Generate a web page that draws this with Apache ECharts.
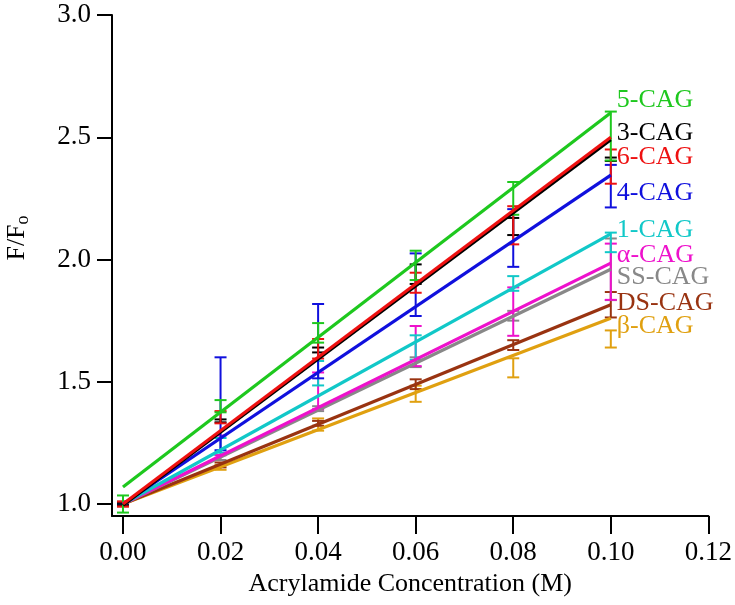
<!DOCTYPE html>
<html>
<head>
<meta charset="utf-8">
<script src="https://cdn.jsdelivr.net/npm/echarts@6/dist/echarts.min.js"></script>
<style>
html,body{margin:0;padding:0;background:#fff;}
#chart{width:735px;height:605px;}
</style>
</head>
<body>
<div id="chart"></div>
<script>
// ---- data ----
const conc = [0, 0.02, 0.04, 0.06, 0.08, 0.10];
const fitX = [0, 0.10];
const xTicks = [0, 0.02, 0.04, 0.06, 0.08, 0.10, 0.12];
const yTicks = [1.0, 1.5, 2.0, 2.5, 3.0];

const names = ['β-CAG', 'DS-CAG', 'SS-CAG', 'α-CAG', '1-CAG', '4-CAG', '3-CAG', '6-CAG', '5-CAG'];

const mean5 = [1.0, 1.40, 1.70, 1.976, 2.25, 2.505];
const err5  = [0.035, 0.025, 0.04, 0.06, 0.067, 0.10];
const fit5  = [1.07, 2.60];

const mean3 = [1.0, 1.34, 1.63, 1.94, 2.135, 2.41];
const err3  = [0.005, 0.006, 0.01, 0.04, 0.035, 0.007];
const fit3  = [0.995, 2.49];

const mean6 = [1.0, 1.355, 1.635, 1.905, 2.14, 2.38];
const err6  = [0.01, 0.025, 0.04, 0.041, 0.078, 0.07];
const fit6  = [1.0, 2.50];

const mean4 = [1.0, 1.41, 1.666, 1.897, 2.088, 2.30];
const err4  = [0.005, 0.19, 0.152, 0.128, 0.118, 0.087];
const fit4  = [1.0, 2.345];

const mean1 = [1.0, 1.24, 1.535, 1.64, 1.902, 2.07];
const err1  = [0.005, 0.03, 0.05, 0.05, 0.03, 0.04];
const fit1  = [1.0, 2.105];

const meanA = [1.0, 1.24, 1.463, 1.646, 1.787, 1.95];
const errA  = [0.005, 0.04, 0.075, 0.082, 0.099, 0.115];
const fitA  = [1.0, 1.985];

const meanSS = [1.0, 1.19, 1.39, 1.58, 1.77, 1.96];
const errSS  = [0.005, 0.01, 0.01, 0.02, 0.02, 0.126];
const fitSS  = [1.0, 1.96];

const meanDS = [1.0, 1.16, 1.33, 1.49, 1.65, 1.815];
const errDS  = [0.01, 0.01, 0.01, 0.02, 0.02, 0.052];
const fitDS  = [1.0, 1.815];

const meanB = [1.0, 1.15, 1.325, 1.451, 1.557, 1.675];
const errB  = [0.005, 0.01, 0.025, 0.033, 0.039, 0.035];
const fitB  = [1.0, 1.76];

const means = [meanB, meanDS, meanSS, meanA, mean1, mean4, mean3, mean6, mean5];
const errs  = [errB, errDS, errSS, errA, err1, err4, err3, err6, err5];
const fits  = [fitB, fitDS, fitSS, fitA, fit1, fit4, fit3, fit6, fit5];

// ---- styles ----
const colors = ['#e0a010', '#993311', '#888888', '#ee11cc', '#11c8c8', '#1010dd', '#000000', '#ee1111', '#1ec81e'];
const labelOffsetY = [8, -2, 8, -8, -4, 18, -7, 20, -13];
const FONT = "'Liberation Serif', 'Times New Roman', serif";

const chart = echarts.init(document.getElementById('chart'), null, {renderer: 'canvas'});

function makeErrRender(color) {
  return function (params, api) {
    const x = api.value(0), lo = api.value(1), hi = api.value(2);
    const pLo = api.coord([x, lo]);
    const pHi = api.coord([x, hi]);
    const h = 6;
    const st = {stroke: color, lineWidth: 2};
    return {
      type: 'group',
      children: [
        {type: 'line', shape: {x1: pLo[0], y1: pLo[1], x2: pHi[0], y2: pHi[1]}, style: st},
        {type: 'line', shape: {x1: pLo[0] - h, y1: pLo[1], x2: pLo[0] + h, y2: pLo[1]}, style: st},
        {type: 'line', shape: {x1: pHi[0] - h, y1: pHi[1], x2: pHi[0] + h, y2: pHi[1]}, style: st}
      ]
    };
  };
}

const series = [];
names.forEach((n, k) => {
  series.push({
    type: 'custom',
    name: n + ' err',
    renderItem: makeErrRender(colors[k]),
    data: conc.map((x, i) => [x, means[k][i] - errs[k][i], means[k][i] + errs[k][i]]),
    encode: {x: 0, y: [1, 2]},
    z: 2,
    silent: true,
    clip: false
  });
});
names.forEach((n, k) => {
  series.push({
    type: 'line',
    name: n,
    data: fitX.map((x, i) => [x, fits[k][i]]),
    symbol: 'none',
    lineStyle: {color: colors[k], width: 3.2},
    itemStyle: {color: colors[k]},
    z: 3 + k,
    silent: true,
    animation: false,
    endLabel: {
      show: true,
      formatter: p => p.seriesName,
      color: colors[k],
      fontFamily: FONT,
      fontSize: 26,
      distance: 5,
      offset: [1, labelOffsetY[k]]
    }
  });
});

const option = {
  animation: false,
  backgroundColor: '#ffffff',
  grid: {left: 112, right: 26, top: 15, bottom: 89, containLabel: false},
  xAxis: {
    type: 'value',
    min: -0.00225,
    max: 0.12,
    name: 'Acrylamide Concentration (M)',
    nameLocation: 'middle',
    nameGap: 55,
    nameTextStyle: {fontFamily: FONT, fontSize: 26, color: '#000'},
    axisLine: {show: true, onZero: false, lineStyle: {color: '#000', width: 2}},
    axisTick: {show: true, inside: false, length: 18, lineStyle: {color: '#000', width: 2}, customValues: xTicks},
    axisLabel: {fontFamily: FONT, fontSize: 27, color: '#000', margin: 23, customValues: xTicks,
      formatter: v => v.toFixed(2)},
    splitLine: {show: false}
  },
  yAxis: {
    type: 'value',
    min: 0.951,
    max: 3.0,
    axisLine: {show: true, onZero: false, lineStyle: {color: '#000', width: 2}},
    axisTick: {show: true, inside: false, length: 15, lineStyle: {color: '#000', width: 2}, customValues: yTicks},
    axisLabel: {fontFamily: FONT, fontSize: 27, color: '#000', margin: 21, customValues: yTicks,
      formatter: v => v.toFixed(1)},
    splitLine: {show: false}
  },
  graphic: [{
    type: 'text',
    x: 17,
    y: 238,
    rotation: Math.PI / 2,
    style: {
      text: 'F/F{s|o}',
      fontFamily: FONT,
      fontSize: 26,
      fill: '#000',
      align: 'center',
      verticalAlign: 'middle',
      rich: {s: {fontFamily: FONT, fontSize: 18, fill: '#000', padding: [12, 0, 0, 0]}}
    }
  }],
  series: series
};
chart.setOption(option);
</script>
</body>
</html>
